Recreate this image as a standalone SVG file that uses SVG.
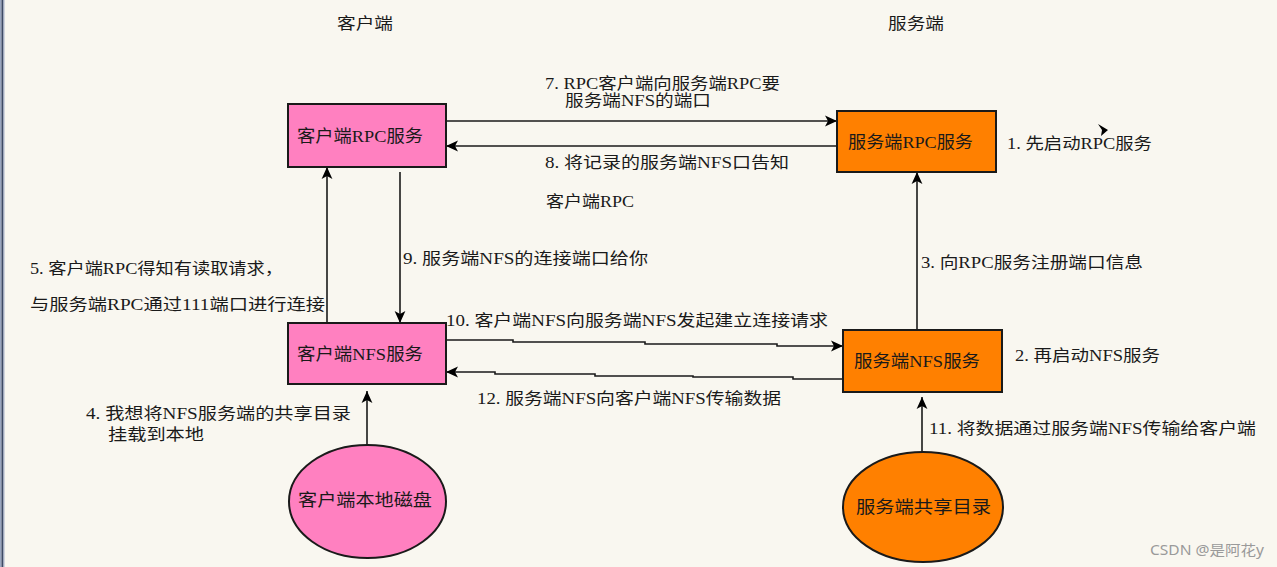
<svg xmlns="http://www.w3.org/2000/svg" width="1277" height="567" viewBox="0 0 1277 567">
<defs>
<marker id="arr" markerUnits="userSpaceOnUse" markerWidth="12" markerHeight="12" viewBox="0 0 10 10" refX="10" refY="5" orient="auto">
<path d="M0,0.5 L10,5 L0,9.5 L2.5,5 z" fill="#000"/>
</marker>
<style>
.bg{fill:#f9f7f0}
.lbl{font-family:"Liberation Serif","Noto Sans CJK SC",serif;font-size:16px;fill:#1a1a1a}
.ntx{font-family:"Liberation Serif","Noto Sans CJK SC",serif;font-size:17px;fill:#1a1a1a}
.pink{fill:#ff80c0;stroke:#1a1a1a;stroke-width:2}
.orange{fill:#ff8000;stroke:#1a1a1a;stroke-width:2}
.con{fill:none;stroke:#1a1a1a;stroke-width:1.6;marker-end:url(#arr)}
.wm{font-family:"Noto Sans","Noto Sans CJK SC",sans-serif;font-size:14px;fill:#9a9a9a}
</style>
</defs>
<rect class="bg" x="0" y="0" width="1277" height="567"/>
<rect x="0" y="0" width="1.5" height="567" fill="#9aa6c0"/>
<rect x="1.5" y="0" width="2" height="567" fill="#3e4a66"/>
<rect x="3.5" y="0" width="1" height="567" fill="#aab4cc"/>

<g id="headers">
<text class="lbl" x="337" y="29" textLength="56" lengthAdjust="spacingAndGlyphs">客户端</text>
<text class="lbl" x="888" y="29" textLength="56" lengthAdjust="spacingAndGlyphs">服务端</text>
</g>

<g id="connectors">
<path class="con" d="M446,121 H837"/>
<path class="con" d="M837,146 H446"/>
<path class="con" d="M327,323 V167"/>
<path class="con" d="M400,172 V323"/>
<path class="con" d="M917,330 V172"/>
<path class="con" d="M446,340 H513 V342 H645 V344 H777 V346 H843"/>
<path class="con" d="M843,379 H793 V377 H693 V376 H595 V374 H495 V372 H446"/>
<path class="con" d="M367,445 V391"/>
<path class="con" d="M922,452 V397"/>
<path d="M1098,124 L1108,130 L1101,136 L1102,130 z" fill="#000"/>
</g>

<g id="node-client-rpc">
<rect class="pink" x="288" y="104" width="158" height="63"/>
<text class="ntx" x="297" y="142" textLength="126" lengthAdjust="spacingAndGlyphs">客户端RPC服务</text>
</g>
<g id="node-server-rpc">
<rect class="orange" x="837" y="111" width="159" height="61"/>
<text class="ntx" x="848" y="148" textLength="125" lengthAdjust="spacingAndGlyphs">服务端RPC服务</text>
</g>
<g id="node-client-nfs">
<rect class="pink" x="288" y="323" width="158" height="61"/>
<text class="ntx" x="297" y="360" textLength="126" lengthAdjust="spacingAndGlyphs">客户端NFS服务</text>
</g>
<g id="node-server-nfs">
<rect class="orange" x="843" y="330" width="159" height="62"/>
<text class="ntx" x="854" y="367" textLength="126" lengthAdjust="spacingAndGlyphs">服务端NFS服务</text>
</g>
<g id="node-client-disk">
<ellipse class="pink" cx="367.5" cy="501.5" rx="78.5" ry="56.5"/>
<text class="ntx" x="298" y="506" textLength="134" lengthAdjust="spacingAndGlyphs">客户端本地磁盘</text>
</g>
<g id="node-server-share">
<ellipse class="orange" cx="923" cy="507" rx="80" ry="55"/>
<text class="ntx" x="856" y="513" textLength="135" lengthAdjust="spacingAndGlyphs">服务端共享目录</text>
</g>

<g id="labels">
<text class="lbl" x="545" y="89" textLength="235" lengthAdjust="spacingAndGlyphs">7. RPC客户端向服务端RPC要</text>
<text class="lbl" x="565" y="106" textLength="146" lengthAdjust="spacingAndGlyphs">服务端NFS的端口</text>
<text class="lbl" x="545" y="168" textLength="244" lengthAdjust="spacingAndGlyphs">8. 将记录的服务端NFS口告知</text>
<text class="lbl" x="546" y="207" textLength="88" lengthAdjust="spacingAndGlyphs">客户端RPC</text>
<text class="lbl" x="1007" y="149" textLength="145" lengthAdjust="spacingAndGlyphs">1. 先启动RPC服务</text>
<text class="lbl" x="403" y="264" textLength="245" lengthAdjust="spacingAndGlyphs">9. 服务端NFS的连接端口给你</text>
<text class="lbl" x="921" y="268" textLength="222" lengthAdjust="spacingAndGlyphs">3. 向RPC服务注册端口信息</text>
<text class="lbl" x="30" y="274" textLength="253" lengthAdjust="spacingAndGlyphs">5. 客户端RPC得知有读取请求，</text>
<text class="lbl" x="30" y="310" textLength="295" lengthAdjust="spacingAndGlyphs">与服务端RPC通过111端口进行连接</text>
<text class="lbl" x="446" y="326" textLength="382" lengthAdjust="spacingAndGlyphs">10. 客户端NFS向服务端NFS发起建立连接请求</text>
<text class="lbl" x="1015" y="361" textLength="145" lengthAdjust="spacingAndGlyphs">2. 再启动NFS服务</text>
<text class="lbl" x="477" y="404" textLength="304" lengthAdjust="spacingAndGlyphs">12. 服务端NFS向客户端NFS传输数据</text>
<text class="lbl" x="86" y="419" textLength="265" lengthAdjust="spacingAndGlyphs">4. 我想将NFS服务端的共享目录</text>
<text class="lbl" x="108" y="440" textLength="96" lengthAdjust="spacingAndGlyphs">挂载到本地</text>
<text class="lbl" x="929" y="434" textLength="327" lengthAdjust="spacingAndGlyphs">11. 将数据通过服务端NFS传输给客户端</text>
</g>
<text class="wm" x="1150" y="555" textLength="114" lengthAdjust="spacingAndGlyphs">CSDN @是阿花y</text>
</svg>
